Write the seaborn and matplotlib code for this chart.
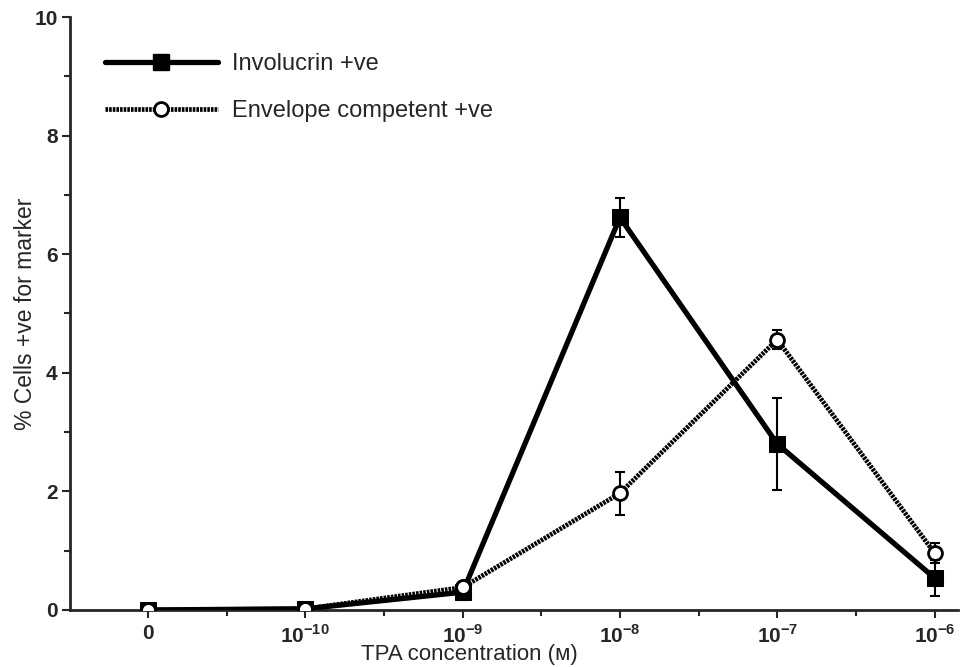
import numpy as np
import pandas as pd
import matplotlib
matplotlib.use("Agg")
import matplotlib.pyplot as plt
import seaborn as sns
from matplotlib.ticker import MultipleLocator, FixedLocator
from matplotlib.lines import Line2D

# Data
conc_labels = ["0", "$10^{-10}$", "$10^{-9}$", "$10^{-8}$", "$10^{-7}$", "$10^{-6}$"]
involucrin = [0.0, 0.02, 0.30, 6.62, 2.80, 0.54]
involucrin_err = [0.0, 0.0, 0.14, 0.33, 0.77, 0.30]
envelope = [0.0, 0.02, 0.38, 1.97, 4.56, 0.96]
envelope_err = [0.0, 0.0, 0.05, 0.36, 0.16, 0.17]

pos = np.arange(len(conc_labels))
df = pd.DataFrame({
    "pos": np.concatenate([pos, pos]),
    "value": involucrin + envelope,
    "series": ["Involucrin +ve"] * len(pos) + ["Envelope competent +ve"] * len(pos),
})

sns.set_style("ticks")
plt.rcParams['font.family'] = ['Liberation Sans', 'DejaVu Sans']
plt.rcParams['mathtext.fontset'] = 'custom'
plt.rcParams['mathtext.rm'] = 'Liberation Sans:bold'

fig = plt.figure(figsize=(9.62, 6.67), dpi=100)
ax = fig.add_axes([0.0728, 0.0855, 0.9232, 0.889])

dotted = (0, (0.55, 0.22))

# error bars
ax.errorbar(pos, involucrin, yerr=involucrin_err, fmt="none", ecolor="black",
            elinewidth=1.5, capsize=3.5, capthick=1.5, zorder=2)
ax.errorbar(pos, envelope, yerr=envelope_err, fmt="none", ecolor="black",
            elinewidth=1.5, capsize=3.5, capthick=1.5, zorder=2)

sns.lineplot(data=df[df.series == "Envelope competent +ve"], x="pos", y="value",
             color="black", linewidth=3.4, linestyle=dotted, marker="o",
             markersize=10, markerfacecolor="white", markeredgecolor="black",
             markeredgewidth=2, ax=ax, zorder=3)
sns.lineplot(data=df[df.series == "Involucrin +ve"], x="pos", y="value",
             color="black", linewidth=3.8, marker="s", markersize=12,
             markerfacecolor="black", markeredgecolor="black", ax=ax, zorder=4)
# keep circles visible on top at low values
ax.plot(pos[:3], envelope[:3], linestyle="none", marker="o", markersize=10,
        markerfacecolor="white", markeredgecolor="black", markeredgewidth=2, zorder=5)

ax.set_xlim(-0.496, 5.15)
ax.set_ylim(0, 10)
ax.set_xticks(pos)
ax.set_xticklabels(conc_labels)
ax.xaxis.set_minor_locator(FixedLocator(pos[:-1] + 0.5))
ax.yaxis.set_major_locator(MultipleLocator(2))
ax.yaxis.set_minor_locator(MultipleLocator(1))
ax.tick_params(axis="both", which="major", length=6, width=1.5, labelsize=15)
ax.tick_params(axis="x", which="major", pad=4)
ax.tick_params(axis="y", which="major", pad=3)
ax.tick_params(axis="both", which="minor", length=4, width=1.5)
for lab in ax.get_xticklabels() + ax.get_yticklabels():
    lab.set_fontweight("bold")

ax.set_xlabel("TPA concentration (ᴍ)", fontsize=16)
ax.xaxis.set_label_coords(0.45, -0.058)
ax.set_ylabel("% Cells +ve for marker", fontsize=16.5)
ax.yaxis.set_label_coords(-0.037, 0.5)

sns.despine(ax=ax)
for s in ["left", "bottom"]:
    ax.spines[s].set_linewidth(2)

handles = [
    Line2D([0], [0], color="black", linewidth=3.8, marker="s", markersize=12),
    Line2D([0], [0], color="black", linewidth=3.4, linestyle=dotted, marker="o",
           markersize=10, markerfacecolor="white", markeredgewidth=2),
]
ax.legend(handles, ["Involucrin +ve", "Envelope competent +ve"], loc="upper left",
          bbox_to_anchor=(0.015, 0.975), frameon=False, fontsize=17,
          handlelength=4.8, handletextpad=0.6, labelspacing=1.05)

fig.savefig("out.png", dpi=100)
